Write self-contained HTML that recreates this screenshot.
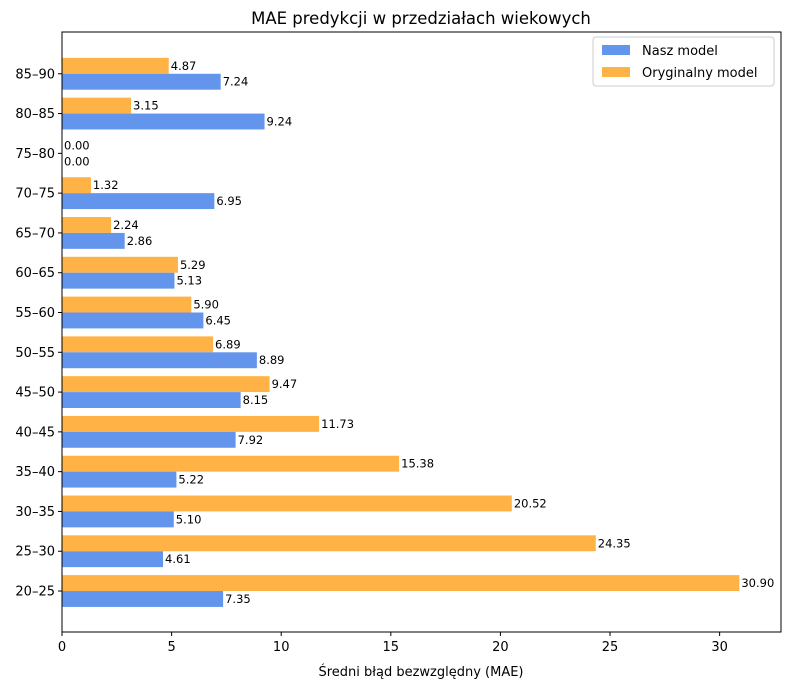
<!DOCTYPE html>
<html><head><meta charset="utf-8"><style>
body{margin:0;background:#fff;font-family:"Liberation Sans","DejaVu Sans",sans-serif}
svg text{font-family:"DejaVu Sans","Liberation Sans",sans-serif}
</style></head><body>
<svg id="chart" width="790" height="690" xmlns="http://www.w3.org/2000/svg">
<rect width="790" height="690" fill="#fff"/>
<text x="421" y="24" font-size="16.5" text-anchor="middle">MAE predykcji w przedziałach wiekowych</text>
<g id="bars"></g>
<g id="axes"></g>
<text x="421" y="676" font-size="13" text-anchor="middle">Średni błąd bezwzględny (MAE)</text>
<g>
<rect x="593" y="37" width="181" height="49" fill="#fff" stroke="#ccc" rx="3"/>
<rect x="602" y="45" width="28" height="10" fill="#6495ED"/>
<text x="642" y="55" font-size="13">Nasz model</text>
<rect x="602" y="67" width="28" height="10" fill="#FFB347"/>
<text x="642" y="77" font-size="13">Oryginalny model</text>
</g>
</svg>
<script>
const categories=["20–25","25–30","30–35","35–40","40–45","45–50","50–55","55–60","60–65","65–70","70–75","75–80","80–85","85–90"];
const naszValues=[7.35,4.61,5.10,5.22,7.92,8.15,8.89,6.45,5.13,2.86,6.95,0.00,9.24,7.24];
const origValues=[30.90,24.35,20.52,15.38,11.73,9.47,6.89,5.90,5.29,2.24,1.32,0.00,3.15,4.87];
const xTicks=[0,5,10,15,20,25,30];
const L=62,R=781,T=32,B=632;
const xMax=32.8;
const yMin=-1.03,yMax=14.05;
const x=v=>L+v/xMax*(R-L);
const y=v=>B-(v-yMin)/(yMax-yMin)*(B-T);
const bw=0.4, ns="http://www.w3.org/2000/svg";
const bars=document.getElementById('bars'), axes=document.getElementById('axes');
function mk(tag,attrs,parent){const e=document.createElementNS(ns,tag);for(const k in attrs)e.setAttribute(k,attrs[k]);parent.appendChild(e);return e;}
const h=(y(0)-y(bw));
categories.forEach((c,i)=>{
  const yo=y(i+bw), yb=y(i);
  const r1=mk('rect',{x:L,y:yo,width:x(origValues[i])-L,height:h,fill:'#FFB347'},bars);
  
  
  const r2=mk('rect',{x:L,y:yb,width:x(naszValues[i])-L,height:h,fill:'#6495ED'},bars);
  
  
  const t1=mk('text',{x:x(origValues[i])+2,y:yo+h/2+4,'font-size':11.5},bars);t1.textContent=origValues[i].toFixed(2);
  
  
  const t2=mk('text',{x:x(naszValues[i])+2,y:yb+h/2+4,'font-size':11.5},bars);t2.textContent=naszValues[i].toFixed(2);
  
  
  mk('line',{x1:L-4,x2:L,y1:y(i),y2:y(i),stroke:'#000'},axes);
  const tl=mk('text',{x:L-7,y:y(i)+4.5,'font-size':13,'text-anchor':'end'},axes);tl.textContent=c;
  
  
});
xTicks.forEach(v=>{
  mk('line',{x1:x(v),x2:x(v),y1:B,y2:B+4,stroke:'#000'},axes);
  const t=mk('text',{x:x(v),y:B+19,'font-size':13,'text-anchor':'middle'},axes);t.textContent=v;
  
  
});
const fr=mk('rect',{x:L,y:T,width:R-L,height:B-T,fill:'none',stroke:'#000','stroke-width':1},axes);


</script>
</body></html>
